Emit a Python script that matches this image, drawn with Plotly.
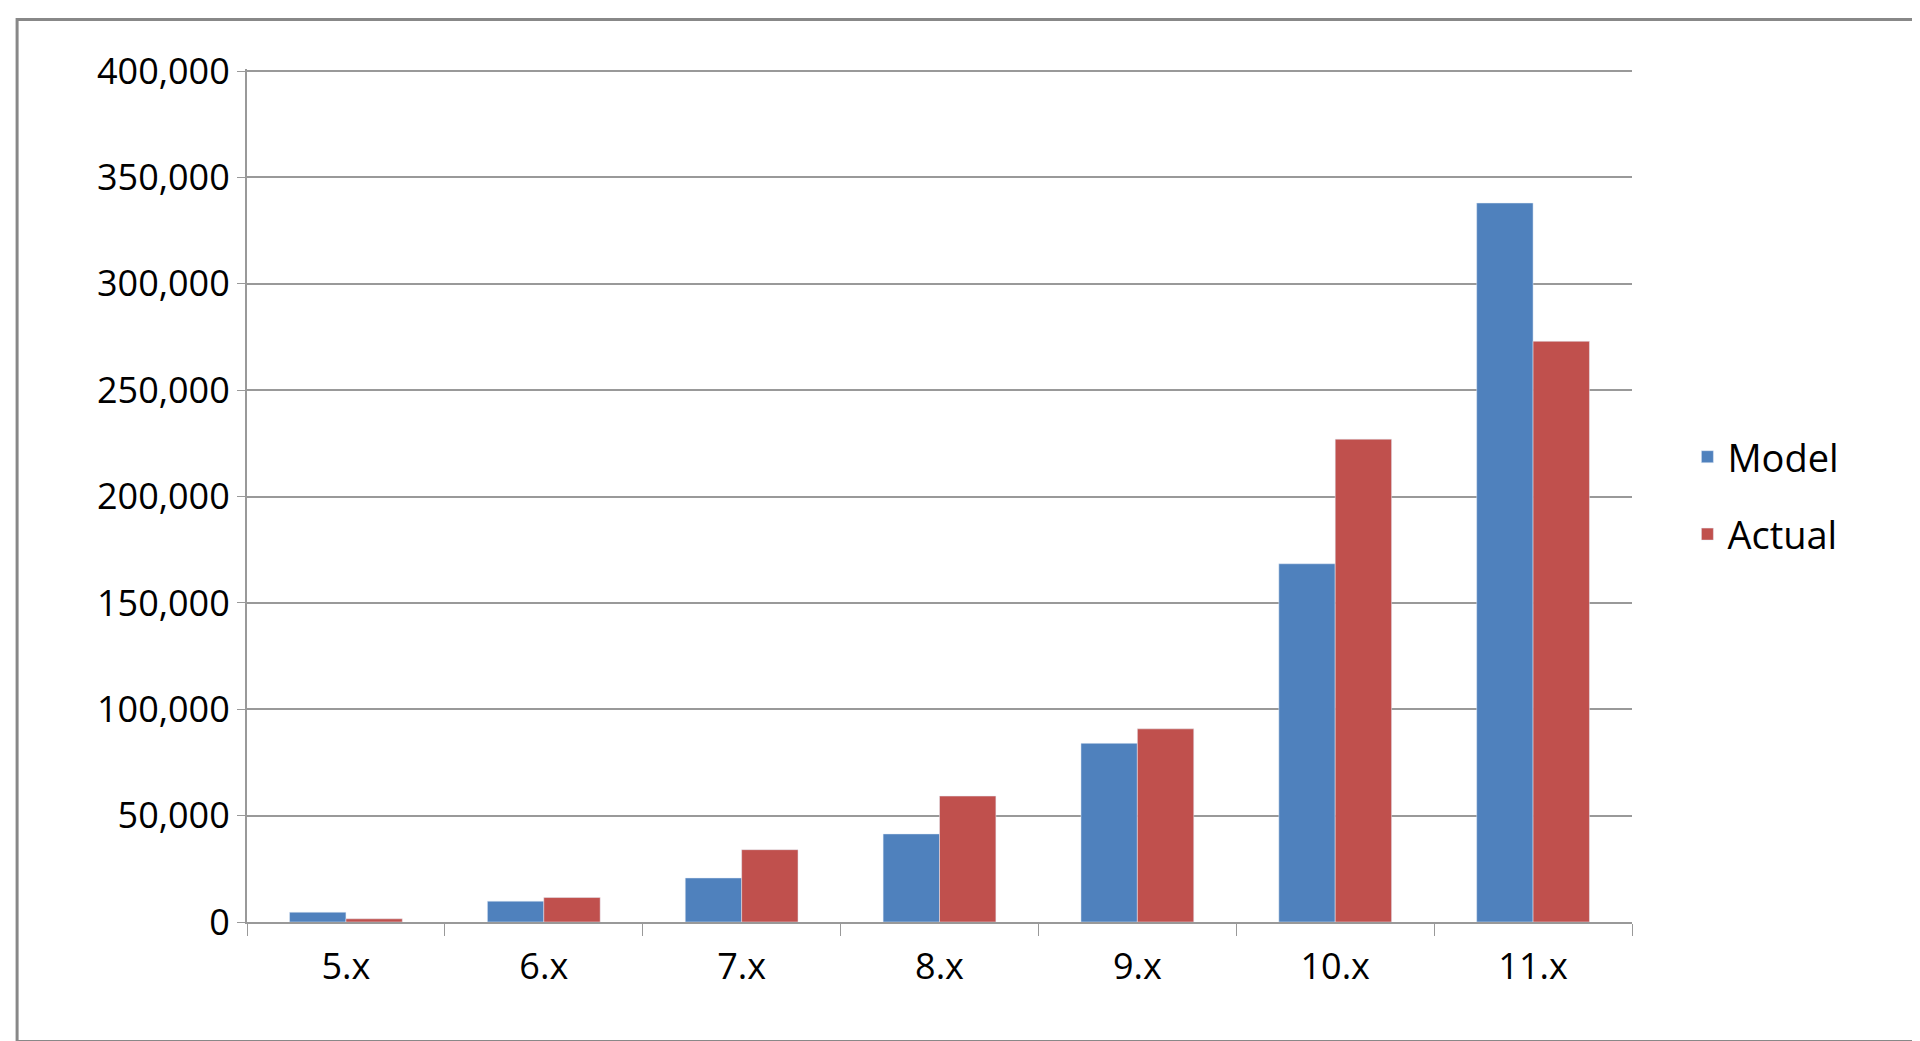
import plotly.graph_objects as go

# Values
versions = ["5.x", "6.x", "7.x", "8.x", "9.x", "10.x", "11.x"]
model = [4600, 9800, 20700, 41400, 84000, 168400, 338000]
actual = [1500, 11500, 34000, 59200, 90800, 227000, 273000]

fig = go.Figure()
fig.add_trace(go.Bar(x=versions, y=model, name="Model", marker_color="#4F81BD",
                     legendgroup="m"))
fig.add_trace(go.Bar(x=versions, y=actual, name="Actual", marker_color="#C0504D",
                     legendgroup="a"))

fig.update_layout(
    width=1920, height=1041,
    paper_bgcolor="white", plot_bgcolor="white",
    margin=dict(l=239, r=296, t=61, b=127),
    bargap=0.43, bargroupgap=0,
    font=dict(family="Open Sans", size=36, color="#000000"),
    legend=dict(x=1.04, y=0.5, yanchor="middle", font=dict(size=38),
                traceorder="grouped", tracegroupgap=25),
    shapes=[dict(type="rect", xref="paper", yref="paper",
                 x0=-0.166, x1=1.205, y0=-0.14, y1=1.058,
                 line=dict(color="#888888", width=3))],
)
fig.update_yaxes(range=[0, 401000], dtick=50000, tickformat=",",
                 showgrid=True, gridcolor="#999999", gridwidth=2,
                 showline=True, linecolor="#999999", linewidth=2,
                 ticks="outside", ticklen=8, tickcolor="#999999", zeroline=False)
fig.update_xaxes(showline=True, linecolor="#999999", linewidth=2,
                 ticks="outside", tickson="boundaries", ticklen=12,
                 tickcolor="#999999", ticklabelstandoff=12)

fig.write_html("out.html")
